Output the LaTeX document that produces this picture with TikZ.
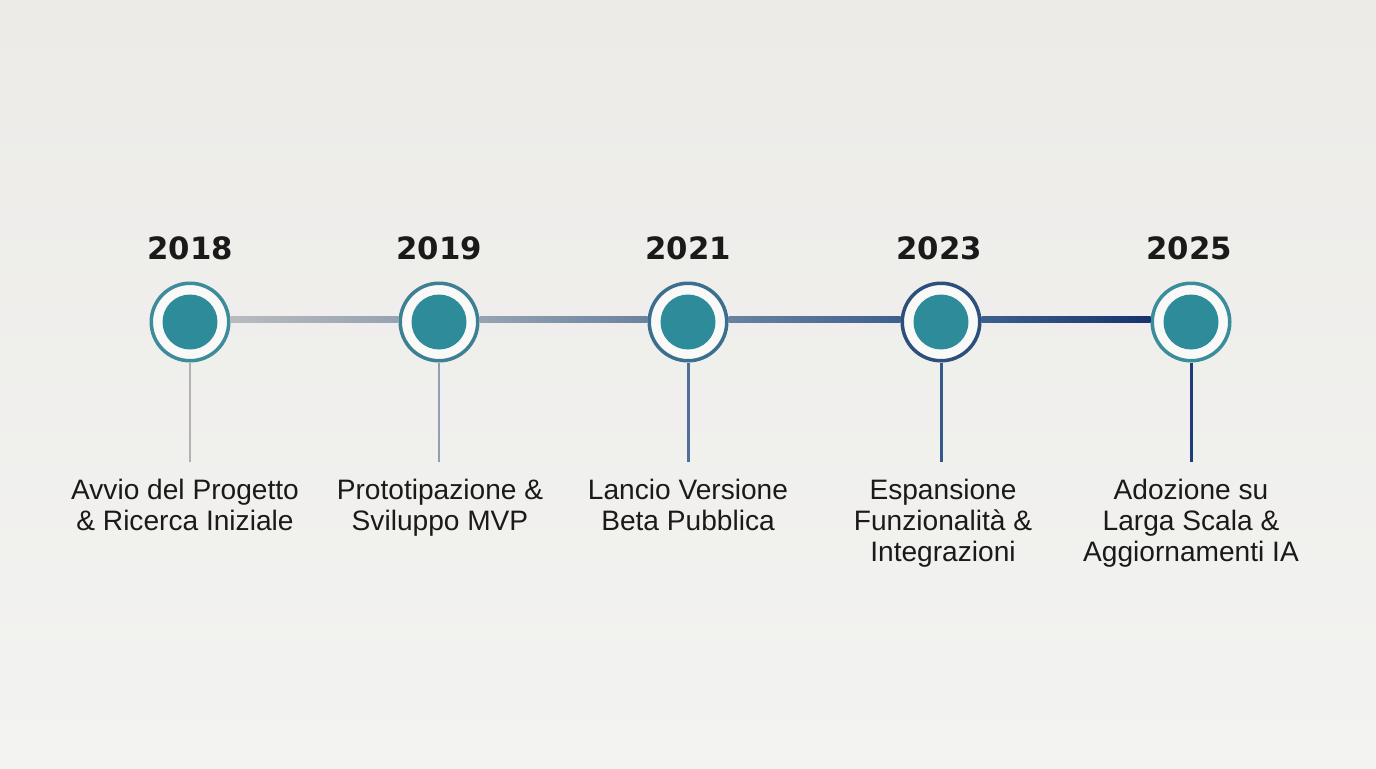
\documentclass[tikz,border=0pt]{standalone}
\usepackage{fontspec}
\setmainfont{Liberation Sans}
\newfontfamily\yearfont{DejaVu Sans}
\definecolor{bgtop}{HTML}{ECEBE8}
\definecolor{bgbot}{HTML}{F3F3F1}
\definecolor{dotteal}{HTML}{2E8C9A}
\definecolor{inkblack}{HTML}{1A1A1A}
\definecolor{tlA}{HTML}{B9BBBD}
\definecolor{tlB}{HTML}{96A3B2}
\definecolor{tlC}{HTML}{6A82A0}
\definecolor{tlD}{HTML}{3E5F8E}
\definecolor{tlE}{HTML}{17326D}
\definecolor{ringA}{HTML}{3C8C99}
\definecolor{ringB}{HTML}{3D7F93}
\definecolor{ringC}{HTML}{3A6F8E}
\definecolor{ringD}{HTML}{2C4F7C}
\definecolor{ringE}{HTML}{3A8D9A}
\definecolor{stemA}{HTML}{B0B2B4}
\definecolor{stemB}{HTML}{8DA0B4}
\definecolor{stemC}{HTML}{4F7199}
\definecolor{stemD}{HTML}{345A88}
\definecolor{stemE}{HTML}{1F3B78}
\tikzset{my ring/.style={circle, draw, line width=2pt, fill=white!50!bgbot, minimum size=1.55cm, inner sep=0pt},
my dot/.style={circle, fill=dotteal, minimum size=1.1cm, inner sep=0pt},
my year/.style={anchor=base, text=inkblack, font=\yearfont\bfseries\fontsize{17.5}{20}\selectfont},
my label/.style={anchor=north, inner sep=0pt, align=center, text=inkblack, font=\fontsize{16}{17.6}\selectfont},
my stem/.style={line width=1.7pt},}

\begin{document}
\begin{tikzpicture}[x=0.02cm, y=-0.02cm]
\path[top color=bgtop, bottom color=bgbot] (0,0) rectangle (1376,768);
\useasboundingbox (0,0) rectangle (1376,768);
% circles
\node [my ring, draw=ringA] (r2018) at (190,322) {};
\node [my ring, draw=ringB] (r2019) at (439,322) {};
\node [my ring, draw=ringC] (r2021) at (688,322) {};
\node [my ring, draw=ringD] (r2023) at (941,322) {};
\node [my ring, draw=ringE] (r2025) at (1191,322) {};
\node [my dot] (d2018) at (r2018) {};
\node [my dot] (d2019) at (r2019) {};
\node [my dot] (d2021) at (r2021) {};
\node [my dot] (d2023) at (r2023) {};
\node [my dot] (d2025) at (r2025) {};
% timeline
\path [left color=tlA, right color=tlB] ([yshift=3.4pt]r2018.east) rectangle (r2019.west);
\path [left color=tlB, right color=tlC] ([yshift=3.4pt]r2019.east) rectangle (r2021.west);
\path [left color=tlC, right color=tlD] ([yshift=3.4pt]r2021.east) rectangle (r2023.west);
\path [left color=tlD, right color=tlE] ([yshift=3.4pt]r2023.east) rectangle (r2025.west);
% years
\node [my year] (y2018) at (190,259) {2018};
\node [my year] (y2019) at (439,259) {2019};
\node [my year] (y2021) at (688,259) {2021};
\node [my year] (y2023) at (939,259) {2023};
\node [my year] (y2025) at (1189,259) {2025};
% stems
\coordinate (s2018) at (190,462);
\coordinate (s2019) at (439,462);
\coordinate (s2021) at (688,462);
\coordinate (s2023) at (941,462);
\coordinate (s2025) at (1191,462);
\draw [my stem, stemA] (r2018.south) -- (s2018);
\draw [my stem, stemB] (r2019.south) -- (s2019);
\draw [my stem, stemC] (r2021.south) -- (s2021);
\draw [my stem, stemD] (r2023.south) -- (s2023);
\draw [my stem, stemE] (r2025.south) -- (s2025);
% labels
\node [my label] (l2018) at (185,479) {Avvio del Progetto\\\& Ricerca Iniziale};
\node [my label] (l2019) at (440,479) {Prototipazione \&\\Sviluppo MVP};
\node [my label] (l2021) at (688,479) {Lancio Versione\\Beta Pubblica};
\node [my label] (l2023) at (943,479) {Espansione\\Funzionalità \&\\Integrazioni};
\node [my label] (l2025) at (1191,479) {Adozione su\\Larga Scala \&\\Aggiornamenti IA};
\end{tikzpicture}
\end{document}
